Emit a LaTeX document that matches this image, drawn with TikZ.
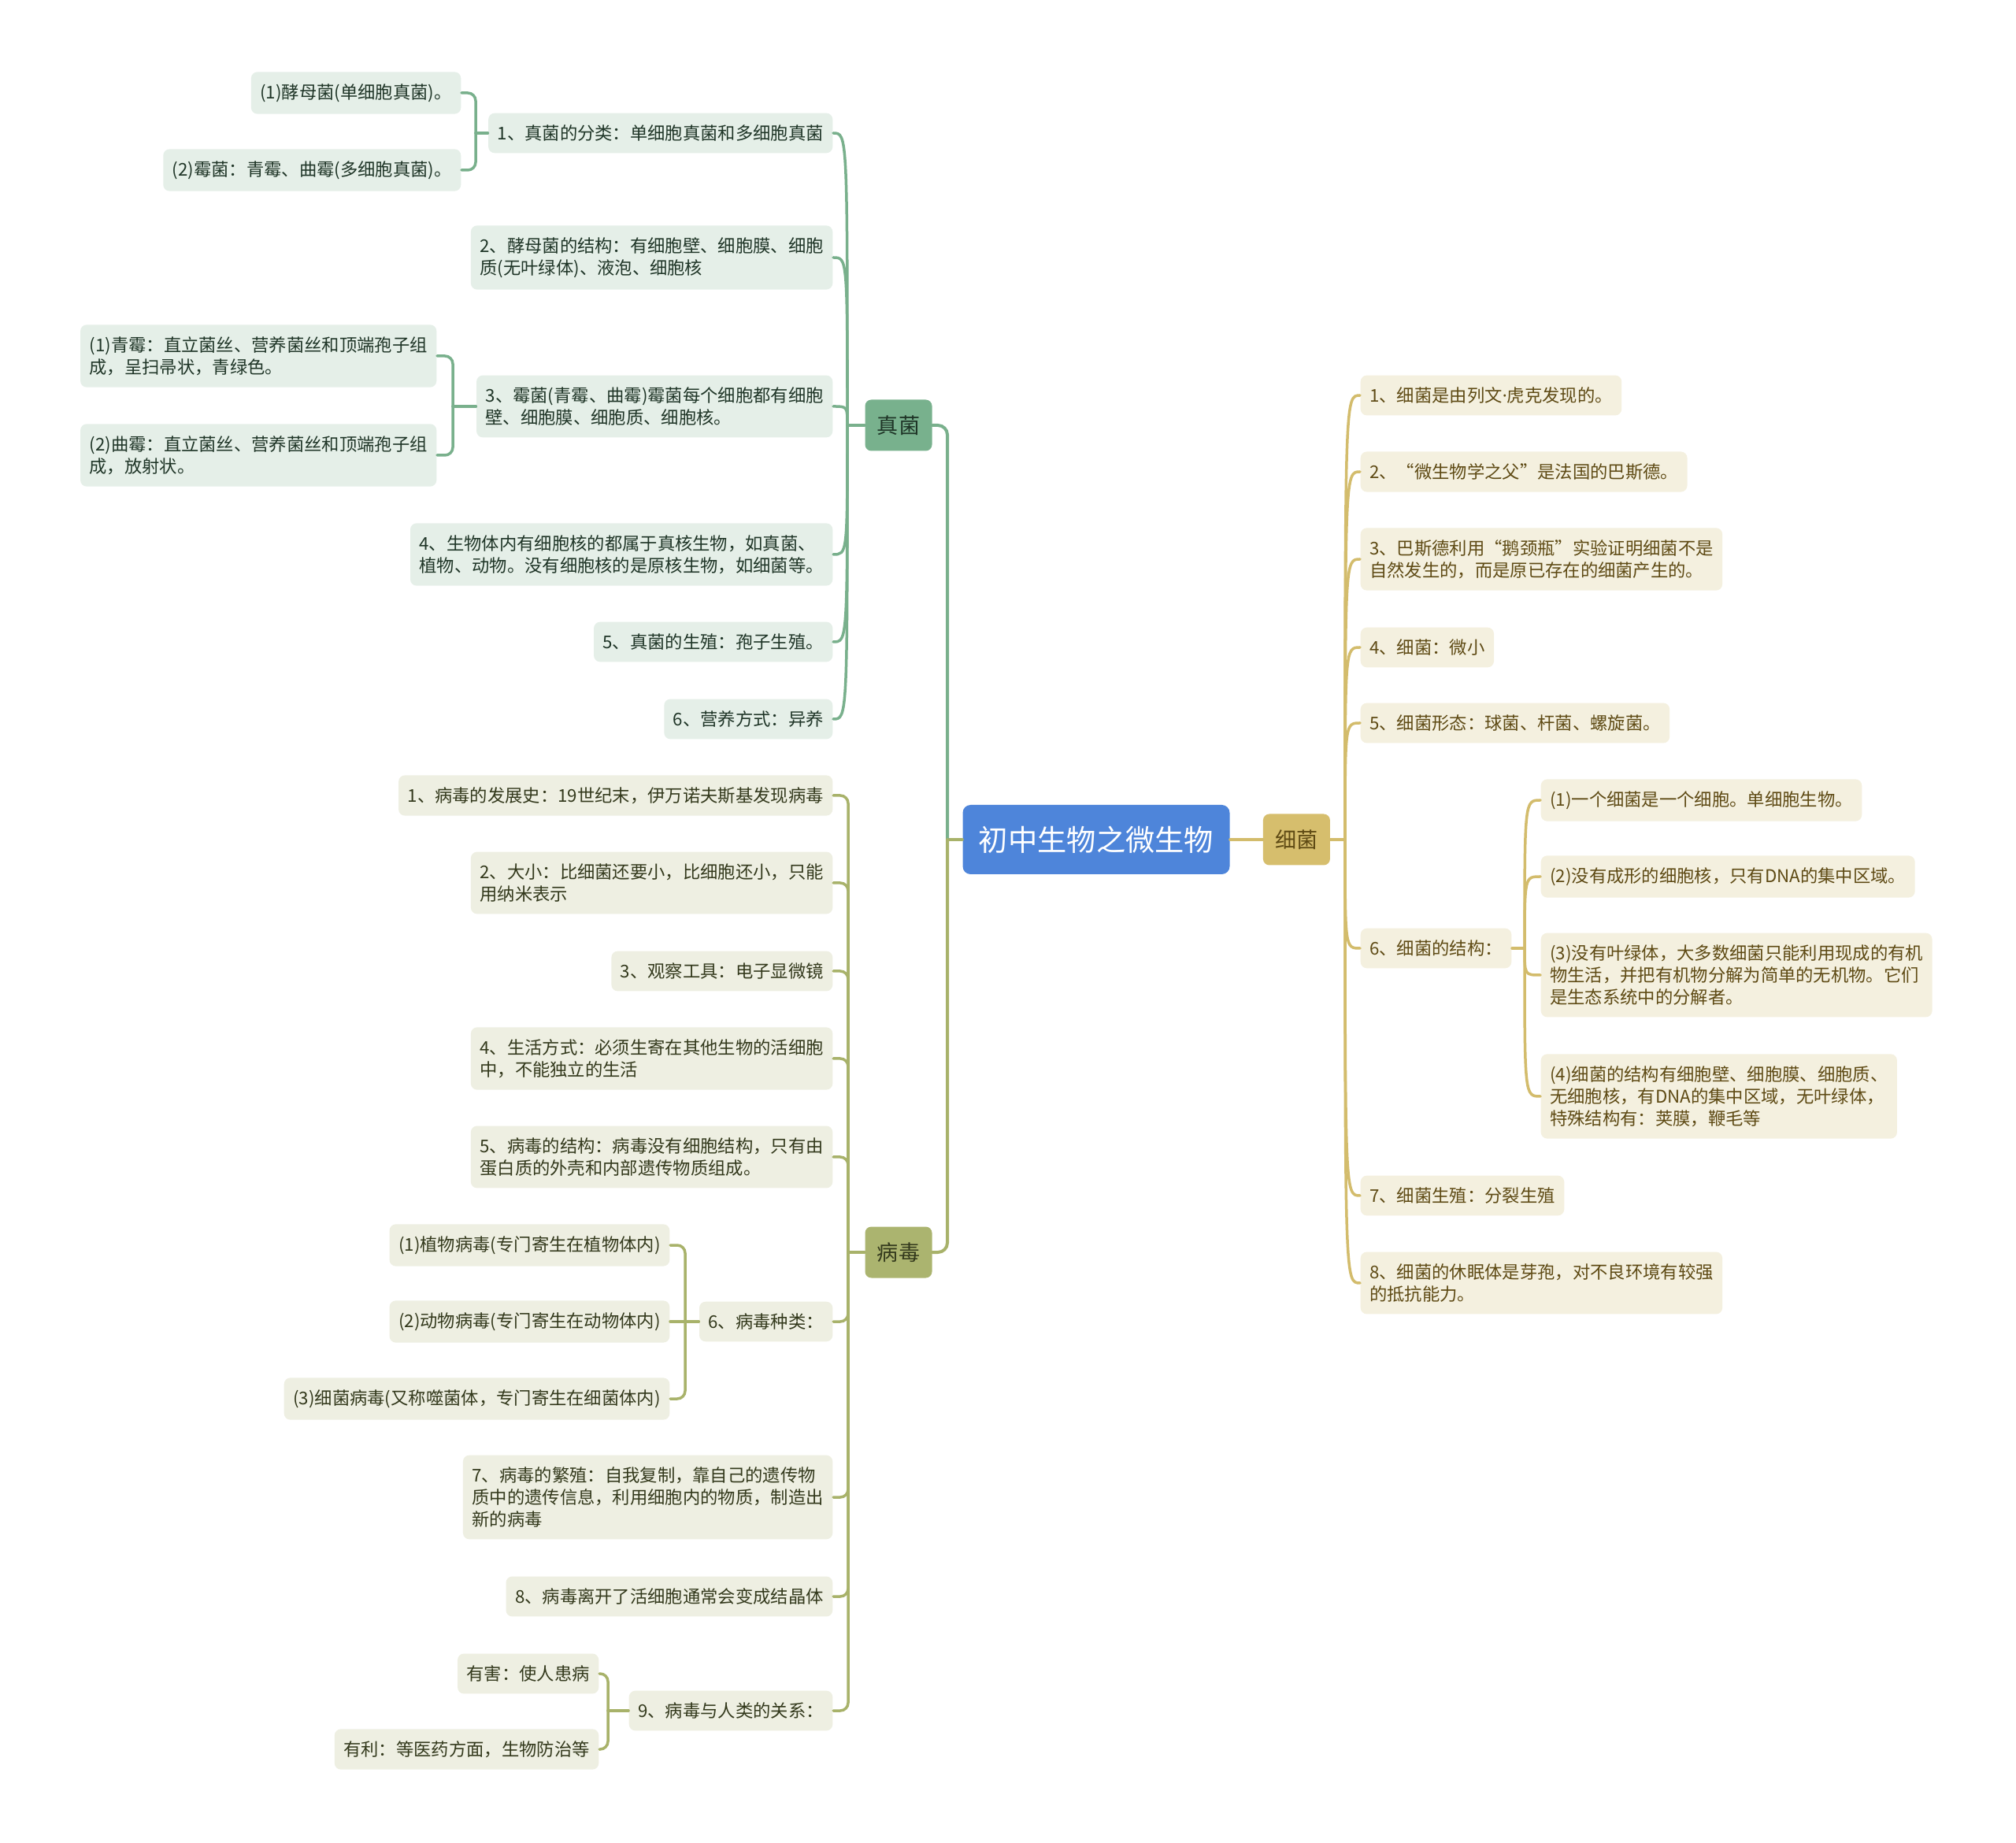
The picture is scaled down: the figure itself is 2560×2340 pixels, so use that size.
\documentclass[tikz,border=0pt]{standalone}
\usepackage{fontspec}
\setmainfont{Noto Sans CJK SC}
\newfontfamily\latinfont{Noto Sans}
\usetikzlibrary{positioning}
\definecolor{rootblue}{HTML}{4E85DA}
\definecolor{zhengreen}{HTML}{78B18D}
\definecolor{bingolive}{HTML}{ABB46F}
\definecolor{xigold}{HTML}{D6BE6D}
\definecolor{gfill}{HTML}{E5EFE8}
\definecolor{vfill}{HTML}{EEEFE2}
\definecolor{bfill}{HTML}{F4F0DF}
\definecolor{gtext}{HTML}{1F3527}
\definecolor{vtext}{HTML}{33391C}
\definecolor{btext}{HTML}{5E4A14}
\definecolor{gedge}{HTML}{79B08C}
\definecolor{vedge}{HTML}{A8B26A}
\definecolor{bedge}{HTML}{D3BC6C}
\tikzset{
  root/.style={rectangle, rounded corners=1mm, minimum width=33.9mm, minimum height=8.8mm,
    fill=rootblue, text=white, font=\fontsize{10.6}{12}\selectfont},
  topic/.style={rectangle, rounded corners=0.8mm, minimum width=8.5mm, minimum height=6.5mm,
    font=\fontsize{7.7}{9}\selectfont},
  leaf/.style={rectangle, rounded corners=0.8mm, align=left, inner xsep=1.15mm, inner ysep=1.5mm,
    font=\fontsize{6.35}{7.97}\selectfont},
  gleaf/.style={leaf, fill=gfill, text=gtext},
  vleaf/.style={leaf, fill=vfill, text=vtext},
  bleaf/.style={leaf, fill=bfill, text=btext},
  link/.style={line width=0.35mm, line cap=round},
  gline/.style={link, draw=gedge},
  vline/.style={link, draw=vedge},
  bline/.style={link, draw=bedge},
}
\begin{document}
\begin{tikzpicture}[x=0.1mm, y=-0.1mm]
  \fill[white] (0,0) rectangle (2560,2340);
  \useasboundingbox (0,0) rectangle (2560,2340);

  \node[root] (root) at (1392,1066) {初中生物之微生物};
  \node[topic, fill=zhengreen, text=gtext] (zhen) at (1141,540) {真菌};
  \node[topic, fill=bingolive, text=vtext] (bing) at (1141,1590) {病毒};
  \node[topic, fill=xigold, text=btext, right=4.1mm of root] (xi) {细菌};

  \node[gleaf, anchor=east] (g1) at (1058,169) {1、真菌的分类：单细胞真菌和多细胞真菌};
  \node[gleaf, anchor=east] (g1a) at (586,118) {(1)酵母菌(单细胞真菌)。};
  \node[gleaf, anchor=east] (g1b) at (586,216) {(2)霉菌：青霉、曲霉(多细胞真菌)。};
  \node[gleaf, anchor=east] (g2) at (1058,327) {2、酵母菌的结构：有细胞壁、细胞膜、细胞\\质(无叶绿体)、液泡、细胞核};
  \node[gleaf, anchor=east] (g3) at (1058,516) {3、霉菌(青霉、曲霉)霉菌每个细胞都有细胞\\壁、细胞膜、细胞质、细胞核。};
  \node[gleaf, anchor=east] (g3a) at (555,452) {(1)青霉：直立菌丝、营养菌丝和顶端孢子组\\成，呈扫帚状，青绿色。};
  \node[gleaf, anchor=east] (g3b) at (555,578) {(2)曲霉：直立菌丝、营养菌丝和顶端孢子组\\成，放射状。};
  \node[gleaf, anchor=east] (g4) at (1058,704) {4、生物体内有细胞核的都属于真核生物，如真菌、\\植物、动物。没有细胞核的是原核生物，如细菌等。};
  \node[gleaf, anchor=east] (g5) at (1058,815) {5、真菌的生殖：孢子生殖。};
  \node[gleaf, anchor=east] (g6) at (1058,913) {6、营养方式：异养};

  \node[vleaf, anchor=east] (v1) at (1058,1010) {1、病毒的发展史：19世纪末，伊万诺夫斯基发现病毒};
  \node[vleaf, anchor=east] (v2) at (1058,1121) {2、大小：比细菌还要小，比细胞还小，只能\\用纳米表示};
  \node[vleaf, anchor=east] (v3) at (1058,1233) {3、观察工具：电子显微镜};
  \node[vleaf, anchor=east] (v4) at (1058,1344) {4、生活方式：必须生寄在其他生物的活细胞\\中，不能独立的生活};
  \node[vleaf, anchor=east] (v5) at (1058,1469) {5、病毒的结构：病毒没有细胞结构，只有由\\蛋白质的外壳和内部遗传物质组成。};
  \node[vleaf, anchor=east] (v6) at (1058,1678) {6、病毒种类：};
  \node[vleaf, anchor=east] (v6a) at (851,1581) {(1)植物病毒(专门寄生在植物体内)};
  \node[vleaf, anchor=east] (v6b) at (851,1678) {(2)动物病毒(专门寄生在动物体内)};
  \node[vleaf, anchor=east] (v6c) at (851,1776) {(3)细菌病毒(又称噬菌体，专门寄生在细菌体内)};
  \node[vleaf, anchor=east] (v7) at (1058,1901) {7、病毒的繁殖：自我复制，靠自己的遗传物\\质中的遗传信息，利用细胞内的物质，制造出\\新的病毒};
  \node[vleaf, anchor=east] (v8) at (1058,2027) {8、病毒离开了活细胞通常会变成结晶体};
  \node[vleaf, anchor=east] (v9) at (1058,2172) {9、病毒与人类的关系：};
  \node[vleaf, anchor=east] (v9a) at (761,2125) {有害：使人患病};
  \node[vleaf, anchor=east] (v9b) at (761,2221) {有利：等医药方面，生物防治等};

  \node[bleaf, anchor=west] (b1) at (1727,502) {1、细菌是由列文{\latinfont ·}虎克发现的。};
  \node[bleaf, anchor=west] (b2) at (1727,599) {2、“微生物学之父”是法国的巴斯德。};
  \node[bleaf, anchor=west] (b3) at (1727,710) {3、巴斯德利用“鹅颈瓶”实验证明细菌不是\\自然发生的，而是原已存在的细菌产生的。};
  \node[bleaf, anchor=west] (b4) at (1727,822) {4、细菌：微小};
  \node[bleaf, anchor=west] (b5) at (1727,918) {5、细菌形态：球菌、杆菌、螺旋菌。};
  \node[bleaf, anchor=west] (b6) at (1727,1204) {6、细菌的结构：};
  \node[bleaf, anchor=west] (b6a) at (1956,1016) {(1)一个细菌是一个细胞。单细胞生物。};
  \node[bleaf, anchor=west] (b6b) at (1956,1113) {(2)没有成形的细胞核，只有DNA的集中区域。};
  \node[bleaf, anchor=west] (b6c) at (1956,1238) {(3)没有叶绿体，大多数细菌只能利用现成的有机\\物生活，并把有机物分解为简单的无机物。它们\\是生态系统中的分解者。};
  \node[bleaf, anchor=west] (b6d) at (1956,1392) {(4)细菌的结构有细胞壁、细胞膜、细胞质、\\无细胞核，有DNA的集中区域，无叶绿体，\\特殊结构有：荚膜，鞭毛等};
  \node[bleaf, anchor=west] (b7) at (1727,1518) {7、细菌生殖：分裂生殖};
  \node[bleaf, anchor=west] (b8) at (1727,1629) {8、细菌的休眠体是芽孢，对不良环境有较强\\的抵抗能力。};

  \coordinate (rj) at (1203,1066);
  \coordinate (zj) at (1076,540);
  \coordinate (g1j) at (604,169);
  \coordinate (g3j) at (575,516);
  \coordinate (vj) at (1077,1590);
  \coordinate (v6j) at (870,1678);
  \coordinate (v9j) at (772,2172);
  \coordinate (xj) at (1708,1066);
  \coordinate (b6j) at (1936,1204);

  \draw[bline, line width=0.4mm] (root) -- (xi);
  \draw[vline, line width=0.4mm] (root.west) -- (rj);
  \draw[gline, line width=0.4mm, rounded corners=1.2mm] (rj) |- (zhen.east);
  \draw[vline, line width=0.4mm, rounded corners=1.2mm] (rj) |- (bing.east);

  \draw[gline] (zhen.west) -- (zj);
  \draw[gline] (zj) .. controls (zj |- g1.east) .. (g1.east);
  \draw[gline] (zj) .. controls (zj |- g2.east) .. (g2.east);
  \draw[gline] (zj) .. controls (zj |- g3.east) .. (g3.east);
  \draw[gline] (zj) .. controls (zj |- g4.east) .. (g4.east);
  \draw[gline] (zj) .. controls (zj |- g5.east) .. (g5.east);
  \draw[gline] (zj) .. controls (zj |- g6.east) .. (g6.east);
  \draw[gline] (g1.west) -- (g1j);
  \draw[gline, rounded corners=1mm] (g1j) |- (g1a.east);
  \draw[gline, rounded corners=1mm] (g1j) |- (g1b.east);
  \draw[gline] (g3.west) -- (g3j);
  \draw[gline, rounded corners=1mm] (g3j) |- (g3a.east);
  \draw[gline, rounded corners=1mm] (g3j) |- (g3b.east);

  \draw[vline] (bing.west) -- (vj);
  \draw[vline, rounded corners=1mm] (vj) |- (v1.east);
  \draw[vline, rounded corners=1mm] (vj) |- (v2.east);
  \draw[vline, rounded corners=1mm] (vj) |- (v3.east);
  \draw[vline, rounded corners=1mm] (vj) |- (v4.east);
  \draw[vline, rounded corners=1mm] (vj) |- (v5.east);
  \draw[vline, rounded corners=1mm] (vj) |- (v6.east);
  \draw[vline, rounded corners=1mm] (vj) |- (v7.east);
  \draw[vline, rounded corners=1mm] (vj) |- (v8.east);
  \draw[vline, rounded corners=1mm] (vj) |- (v9.east);
  \draw[vline] (v6.west) -- (v6j);
  \draw[vline, rounded corners=1mm] (v6j) |- (v6a.east);
  \draw[vline] (v6j) -- (v6b.east);
  \draw[vline, rounded corners=1mm] (v6j) |- (v6c.east);
  \draw[vline] (v9.west) -- (v9j);
  \draw[vline, rounded corners=1mm] (v9j) |- (v9a.east);
  \draw[vline, rounded corners=1mm] (v9j) |- (v9b.east);

  \draw[bline] (xi.east) -- (xj);
  \draw[bline] (xj) .. controls (xj |- b1.west) .. (b1.west);
  \draw[bline] (xj) .. controls (xj |- b2.west) .. (b2.west);
  \draw[bline] (xj) .. controls (xj |- b3.west) .. (b3.west);
  \draw[bline] (xj) .. controls (xj |- b4.west) .. (b4.west);
  \draw[bline] (xj) .. controls (xj |- b5.west) .. (b5.west);
  \draw[bline] (xj) .. controls (xj |- b6.west) .. (b6.west);
  \draw[bline] (xj) .. controls (xj |- b7.west) .. (b7.west);
  \draw[bline] (xj) .. controls (xj |- b8.west) .. (b8.west);
  \draw[bline] (b6.east) -- (b6j);
  \draw[bline] (b6j) .. controls (b6j |- b6a.west) .. (b6a.west);
  \draw[bline] (b6j) .. controls (b6j |- b6b.west) .. (b6b.west);
  \draw[bline] (b6j) .. controls (b6j |- b6c.west) .. (b6c.west);
  \draw[bline] (b6j) .. controls (b6j |- b6d.west) .. (b6d.west);
\end{tikzpicture}
\end{document}
